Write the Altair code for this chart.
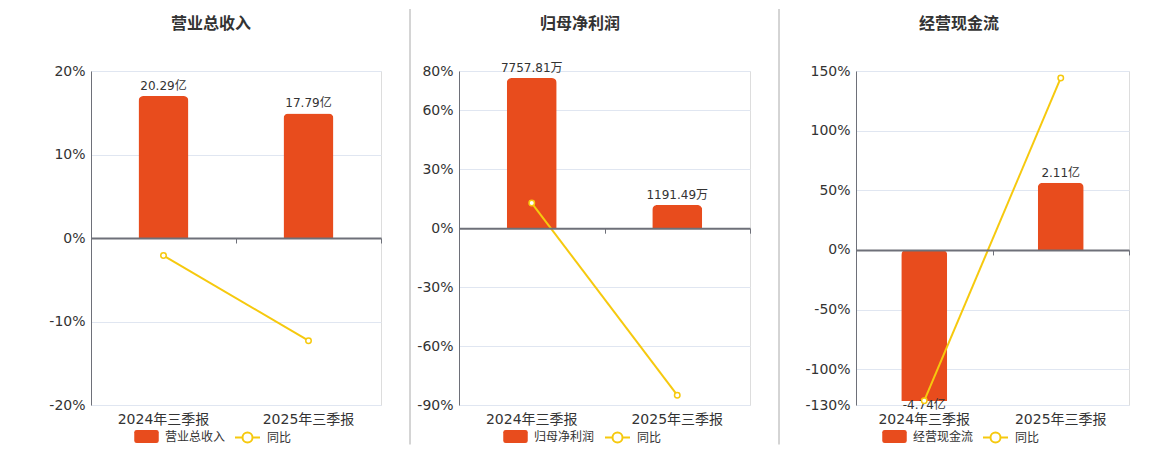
import altair as alt
import pandas as pd

# ---------------- data ----------------
periods = ["2024年三季报", "2025年三季报"]
panel_titles = ["营业总收入", "归母净利润", "经营现金流"]

revenue = [20.29, 17.79]            # 亿
revenue_labels = ["20.29亿", "17.79亿"]
revenue_yoy = [-2.1, -12.3]         # %

profit = [7757.81, 1191.49]         # 万
profit_labels = ["7757.81万", "1191.49万"]
profit_yoy = [12.8, -85.0]          # %

cash = [-4.74, 2.11]                # 亿
cash_labels = ["-4.74亿", "2.11亿"]
cash_yoy = [-126.4, 144.2]          # %

pct_domains = [[-20, 20], [-90, 80], [-130, 150]]
pct_ticks = [[-20, -10, 0, 10, 20], [-90, -60, -30, 0, 30, 60, 80], [-130, -100, -50, 0, 50, 100, 150]]
bar_domains = [[-23.86, 23.86], [-9132, 8119], [-4.868, 5.615]]

# ---------------- style ----------------
FONT = "DejaVu Sans, Noto Sans CJK SC"
BAR = "#E84C1D"
LINE = "#F6C90E"
AXIS = "#6E7079"
GRID = "#E0E6F1"
TXT = "#333333"
H = 334
widths = [290, 291, 273]
bar_sizes = [50, 50, 46]
title_dx = [-25, -24.5, -33.5]
legend_x = [(43, 143), (44, 145), (26, 126)]
left_edge = [-82, -49, -77]     # separator / left boundary of each panel
LEG_Y = 353

BAR_SYMBOL = ("M-0.8,-0.54 H0.8 Q1,-0.54 1,-0.34 V0.34 Q1,0.54 0.8,0.54 "
              "H-0.8 Q-1,0.54 -1,0.34 V-0.34 Q-1,-0.54 -0.8,-0.54 Z")
LINE_SYMBOL = ("M-1,0 H-0.4 M0.4,0 H1 M0.4,0 A0.4,0.4 0 1,1 -0.4,0 "
               "A0.4,0.4 0 1,1 0.4,0 Z")


def panel(i, values, labels, yoy):
    name = panel_titles[i]
    df = pd.DataFrame({
        "period": periods,
        "value": values,
        "label": labels,
        "yoy": yoy,
        "series": [name] * len(periods),
        "yoyname": ["同比"] * len(periods),
    })
    lo, hi = pct_domains[i]
    zero_y = H * hi / (hi - lo)
    xscale = alt.Scale(domain=periods, paddingInner=0, paddingOuter=0)

    x_lab = alt.X("period:N", sort=periods, scale=xscale,
                  axis=alt.Axis(title=None, orient="bottom", labelAngle=0, domain=False,
                                ticks=False, tickSize=0, labelPadding=7, labelFontSize=14,
                                labelColor=TXT, labelFont=FONT))
    x_zero = alt.X("period:N", sort=periods, scale=xscale,
                   axis=alt.Axis(title=None, orient="bottom", labels=False, domain=True,
                                 domainColor=AXIS, domainWidth=2, ticks=True, tickBand="extent",
                                 tickSize=5, tickColor=AXIS, tickWidth=1,
                                 offset=-(H - zero_y), zindex=1))
    ybar = alt.Scale(domain=bar_domains[i], nice=False, zero=False)
    ypct = alt.Scale(domain=pct_domains[i], nice=False, zero=False)

    bar_color = alt.Color("series:N", scale=alt.Scale(domain=[name], range=[BAR]),
                          legend=alt.Legend(title=None, orient="none", legendX=legend_x[i][0],
                                            legendY=LEG_Y, symbolType=BAR_SYMBOL, symbolSize=600,
                                            labelFontSize=12, labelColor=TXT, labelFont=FONT,
                                            labelOffset=6, padding=0, symbolStrokeWidth=0))

    bars = alt.Chart(df).mark_bar(size=bar_sizes[i], cornerRadiusEnd=5).encode(
        x=x_lab,
        y=alt.Y("value:Q", scale=ybar, axis=None),
        color=bar_color,
    )
    txt_pos = alt.Chart(df).transform_filter("datum.value >= 0").mark_text(
        fontSize=12, color=TXT, font=FONT, baseline="middle", dy=-10
    ).encode(x=x_lab, y=alt.Y("value:Q", scale=ybar, axis=None), text="label:N")
    txt_neg = alt.Chart(df).transform_filter("datum.value < 0").mark_text(
        fontSize=12, color=TXT, font=FONT, baseline="middle", dy=4
    ).encode(x=x_lab, y=alt.Y("value:Q", scale=ybar, axis=None), text="label:N")
    bar_group = alt.layer(bars, txt_pos, txt_neg)

    y_pct = alt.Y("yoy:Q", scale=ypct,
                  axis=alt.Axis(title=None, values=pct_ticks[i], labelExpr="datum.value + '%'",
                                grid=True, gridColor=GRID, gridWidth=1, domain=True,
                                domainColor=AXIS, domainWidth=1, ticks=False, tickSize=0,
                                labelPadding=6, labelFontSize=14, labelColor=TXT,
                                labelFont=FONT, labelOverlap=False))
    stroke_enc = alt.Stroke("yoyname:N", scale=alt.Scale(domain=["同比"], range=[LINE]),
                            legend=alt.Legend(title=None, orient="none", legendX=legend_x[i][1],
                                              legendY=LEG_Y, symbolType=LINE_SYMBOL,
                                              symbolSize=625, symbolStrokeWidth=2,
                                              symbolFillColor="white",
                                              labelFontSize=12, labelColor=TXT, labelFont=FONT,
                                              labelOffset=6, padding=0))
    line = alt.Chart(df).mark_line(strokeWidth=2).encode(x=x_zero, y=y_pct, stroke=stroke_enc)
    pts = alt.Chart(df).mark_point(filled=True, fill="white", size=30, strokeWidth=1.5,
                                   opacity=1).encode(x=x_zero, y=y_pct, stroke=stroke_enc)
    line_group = alt.layer(line, pts)

    sep_color = "white" if i == 0 else "#AAAAAA"
    sep = alt.Chart(pd.DataFrame({"s": [0]})).mark_rule(color=sep_color, strokeWidth=1).encode(
        x=alt.value(left_edge[i]), y=alt.value(-62), y2=alt.value(373.5))

    return alt.layer(bar_group, line_group, sep).resolve_scale(y="independent").resolve_axis(
        x="independent").properties(
        width=widths[i], height=H,
        title=alt.TitleParams(text=name, fontSize=16, fontWeight="bold", color=TXT, font=FONT,
                              anchor="middle", frame="group", dx=title_dx[i], offset=0, dy=23),
    )


p1 = panel(0, revenue, revenue_labels, revenue_yoy)
p2 = panel(1, profit, profit_labels, profit_yoy)
p3 = panel(2, cash, cash_labels, cash_yoy)

chart = alt.hconcat(p1, p2, p3, spacing=27).resolve_scale(
    color="independent", stroke="independent").properties(padding=0, background="white")

chart = chart.configure_view(stroke=None).configure(font=FONT)

chart.save("out.html", embed_options={"renderer": "svg", "actions": False})
